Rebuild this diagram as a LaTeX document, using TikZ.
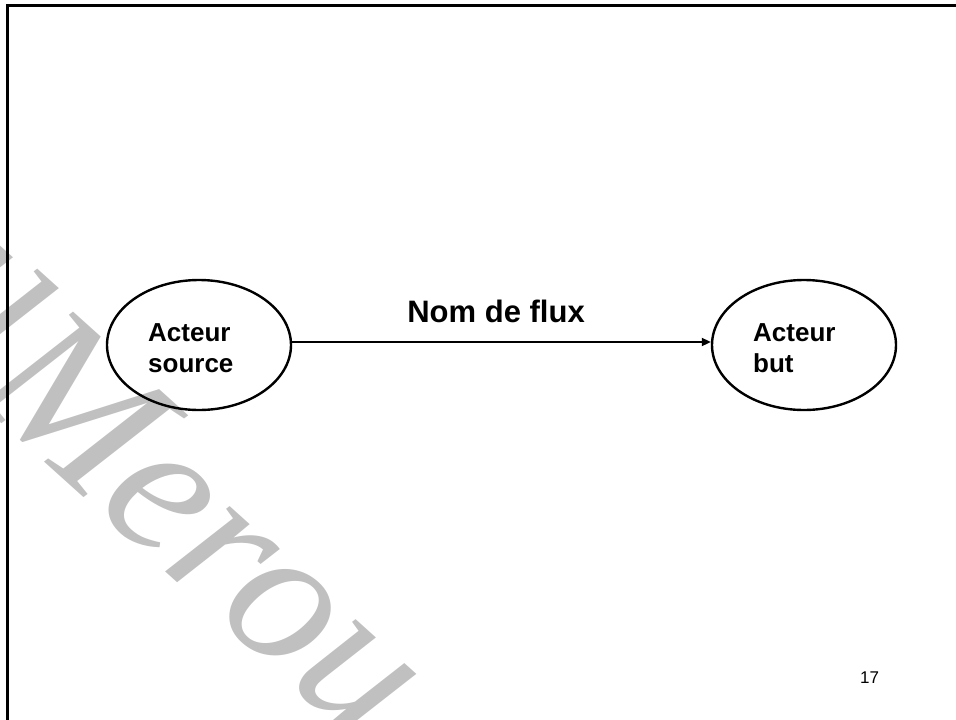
\documentclass[tikz,border=0pt]{standalone}
\usepackage{fontspec}
\setmainfont{Liberation Sans}
\newfontfamily\wmfont{Liberation Serif}
\usetikzlibrary{arrows.meta,shapes.geometric}
\definecolor{wmgray}{HTML}{C0C0C0}
\begin{document}
\begin{tikzpicture}[x=1pt,y=-1pt,
  frame/.style={line width=3pt, line cap=rect},
  actor/.style={draw, ellipse, line width=2.4pt, minimum width=184pt,
                minimum height=130pt, inner sep=0pt},
  actortext/.style={anchor=west, inner sep=0pt, align=left,
                    font=\fontsize{26pt}{31pt}\selectfont\bfseries},
  flow/.style={line width=2pt, -{Triangle[length=9pt,width=8pt]}},
  flowlabel/.style={font=\fontsize{31pt}{36pt}\selectfont\bfseries, inner sep=0pt},
  pagenum/.style={font=\fontsize{17pt}{20pt}\selectfont, inner sep=0pt, anchor=base west},
  watermark/.style={text=wmgray, inner sep=0pt, rotate=-42,
                    font=\wmfont\itshape\fontsize{200pt}{200pt}\selectfont}]

% page size and clipping
\useasboundingbox (0,0) rectangle (956,720);
\clip (0,0) rectangle (956,720);

% watermark
\node[watermark, anchor=base west] (wmM) at (-30,395) {Merou};
\node[watermark, anchor=base east] (wmE) at (wmM.base west) {El\hspace{0.15em}};

% slide frame
\draw[frame] (7.5,730) -- (7.5,5.5) -- (970,5.5);

% actors
\node[actor] (src) at (199,345) {};
\node[actor] (dst) at (804,345) {};
\node[actortext] (srcText) at (148,348) {Acteur\\source};
\node[actortext] (dstText) at (753,348) {Acteur\\but};

% flow between actors
\draw[flow] ([yshift=3pt]src.east) -- ([yshift=3pt]dst.west)
  node[flowlabel, pos=0.487, anchor=base, yshift=20pt] (flowName) {Nom de flux};

% page number
\node[pagenum] (page) at (860,683) {17};
\end{tikzpicture}
\end{document}
